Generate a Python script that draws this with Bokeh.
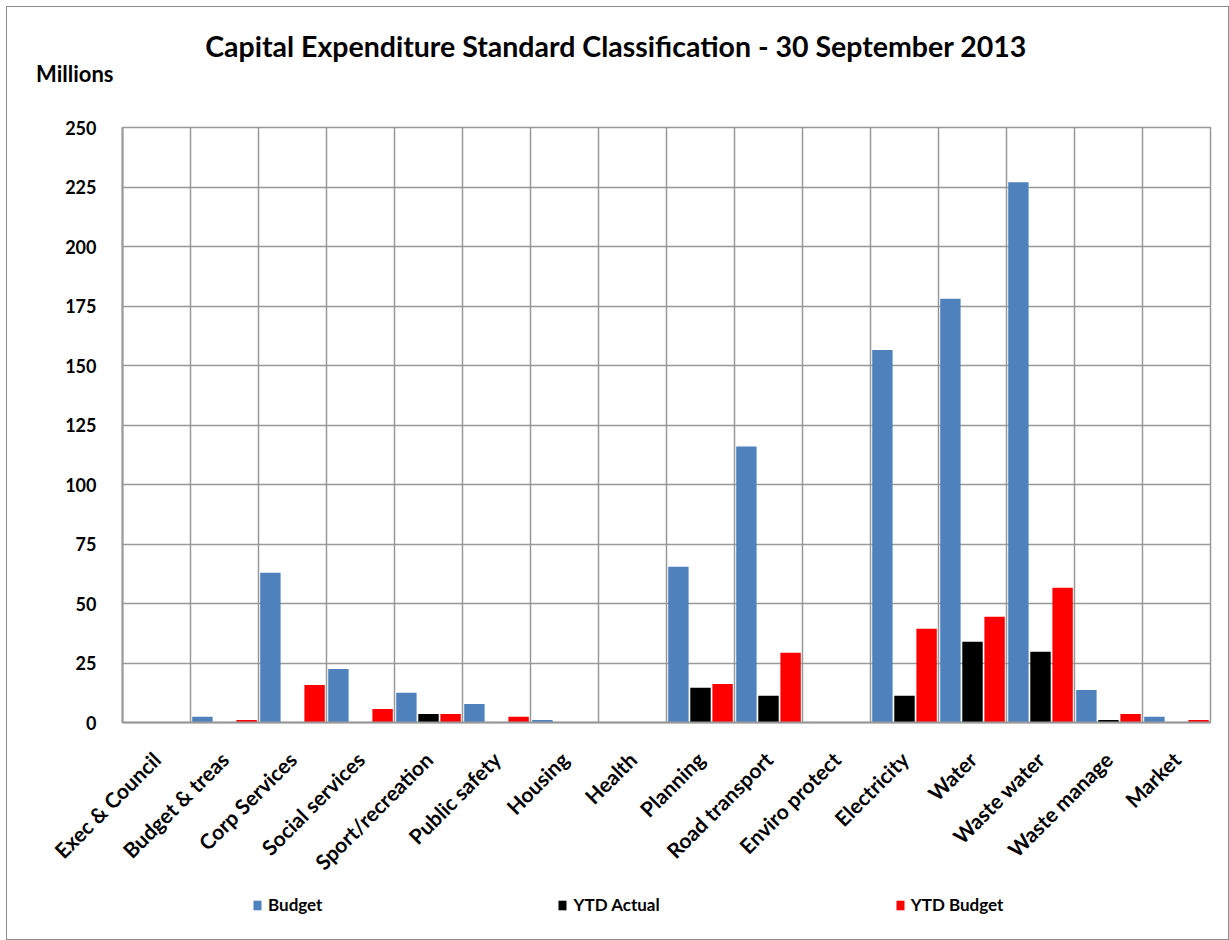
import math
import numpy as np
from bokeh.plotting import figure
from bokeh.layouts import column
from bokeh.models import (Range1d, FixedTicker, SingleIntervalTicker, Legend,
                          LegendItem, Grid, Label)
from bokeh.embed import file_html
from bokeh.resources import INLINE

categories = ["Exec & Council", "Budget & treas", "Corp Services", "Social services",
              "Sport/recreation", "Public safety", "Housing", "Health", "Planning",
              "Road transport", "Enviro protect", "Electricity", "Water", "Waste water",
              "Waste manage", "Market"]
budget = [0, 2.4, 62.9, 22.5, 12.5, 7.8, 1.1, 0, 65.4, 116.0, 0, 156.5, 178.0, 227.0, 13.7, 2.4]
ytd_actual = [0, 0, 0, 0, 3.6, 0, 0, 0, 14.6, 11.2, 0, 11.2, 33.9, 29.7, 1.1, 0]
ytd_budget = [0, 1.1, 15.8, 5.7, 3.6, 2.4, 0, 0, 16.2, 29.3, 0, 39.4, 44.4, 56.6, 3.6, 1.1]
series_names = ["Budget", "YTD Actual", "YTD Budget"]
series_colors = ["#4F81BD", "#000000", "#FF0000"]
title_text = "Capital Expenditure Standard Classification  - 30 September 2013"
y_unit_text = "Millions"
y_max = 250
y_step = 25

FONT = "Lato"
GRID = "#999999"
W = 1221
LEFT = 115
RIGHT = 18
FRAME_W = W - LEFT - RIGHT

n = len(categories)
centers = np.arange(n) + 0.5


def bare(fig):
    fig.xaxis.visible = False
    fig.yaxis.visible = False
    fig.xgrid.visible = False
    fig.ygrid.visible = False
    fig.outline_line_color = None
    fig.background_fill_color = "white"
    fig.border_fill_color = "white"


# ---- header (title + unit) ----
H1 = 108
head = figure(width=W, height=H1, x_range=Range1d(0, FRAME_W), y_range=Range1d(H1, 0),
              output_backend="svg", toolbar_location=None,
              min_border_left=LEFT, min_border_right=RIGHT,
              min_border_top=0, min_border_bottom=0)
bare(head)
head.yaxis.visible = True
head.yaxis.ticker = FixedTicker(ticks=[66])
head.yaxis.major_label_overrides = {66: y_unit_text}
head.yaxis.axis_line_color = None
head.yaxis.major_tick_line_color = None
head.yaxis.minor_tick_line_color = None
head.yaxis.major_label_standoff = 3
head.yaxis.major_label_text_font = FONT
head.yaxis.major_label_text_font_style = "bold"
head.yaxis.major_label_text_font_size = "22px"
head.yaxis.major_label_text_color = "black"
head.add_layout(Label(x=497, y=38, text=title_text, text_align="center",
                      text_baseline="middle", text_font=FONT, text_font_style="bold",
                      text_font_size="28.5px", text_color="black"))

# ---- main chart ----
H2 = 780
p = figure(width=W, height=H2, x_range=Range1d(0, n), y_range=Range1d(0, y_max),
           output_backend="svg", toolbar_location=None,
           min_border_left=LEFT, min_border_right=RIGHT, min_border_top=12, min_border_bottom=173)
p.outline_line_color = GRID
p.outline_line_width = 1.5
p.background_fill_color = "white"
p.border_fill_color = "white"

p.xgrid.visible = False
p.add_layout(Grid(dimension=0, ticker=FixedTicker(ticks=list(range(n + 1))),
                  grid_line_color=GRID, grid_line_width=1.5))
p.ygrid.ticker = SingleIntervalTicker(interval=y_step)
p.ygrid.grid_line_color = GRID
p.ygrid.grid_line_width = 1.5

p.xaxis.ticker = FixedTicker(ticks=list(centers))
p.xaxis.major_label_overrides = {float(c): name for c, name in zip(centers, categories)}
p.xaxis.major_label_orientation = math.pi / 4
p.xaxis.major_label_text_font = FONT
p.xaxis.major_label_text_font_style = "bold"
p.xaxis.major_label_text_font_size = "21px"
p.xaxis.major_label_text_color = "black"
p.xaxis.major_tick_line_color = None
p.xaxis.minor_tick_line_color = None
p.xaxis.major_label_standoff = 27
p.xaxis.axis_line_color = GRID
p.xaxis.axis_line_width = 2

p.yaxis.ticker = SingleIntervalTicker(interval=y_step)
p.yaxis.major_label_text_font = FONT
p.yaxis.major_label_text_font_style = "bold"
p.yaxis.major_label_text_font_size = "18px"
p.yaxis.major_label_text_color = "black"
p.yaxis.major_tick_line_color = None
p.yaxis.minor_tick_line_color = None
p.yaxis.major_label_standoff = 20
p.yaxis.axis_line_color = GRID
p.yaxis.axis_line_width = 2

offsets = [-0.325, 0.0, 0.325]
for vals, col, off in zip([budget, ytd_actual, ytd_budget], series_colors, offsets):
    p.vbar(x=centers + off, top=vals, width=0.3, bottom=0, fill_color=col, line_color=None)

# ---- legend strip ----
H3 = 44
leg = figure(width=W, height=H3, x_range=Range1d(0, 1), y_range=Range1d(0, 1),
             output_backend="svg", toolbar_location=None,
             min_border_left=LEFT, min_border_right=RIGHT,
             min_border_top=0, min_border_bottom=0)
bare(leg)
# zero-height placeholder bars: only their legend swatches show
leg_renderers = [leg.vbar(x=[0], top=[0], bottom=0, width=0.3, fill_color=col, line_color=None)
                 for col in series_colors]
legend = Legend(items=[LegendItem(label=nm, renderers=[r]) for nm, r in zip(series_names, leg_renderers)],
                orientation="horizontal", location=(130, 24), spacing=235,
                padding=0, margin=0, border_line_color=None, background_fill_alpha=0,
                glyph_width=10, glyph_height=12, label_height=12, label_standoff=6,
                label_text_font=FONT, label_text_font_style="bold", label_text_color="black",
                label_text_font_size="17px", label_text_baseline="middle")
leg.add_layout(legend, "center")

layout = column(head, p, leg, spacing=0)
layout.styles = {"border": "1px solid #8c8c8c", "margin-left": "6px", "margin-top": "6px",
                 "background-color": "white"}

open("out.html", "w").write(file_html(layout, INLINE))
